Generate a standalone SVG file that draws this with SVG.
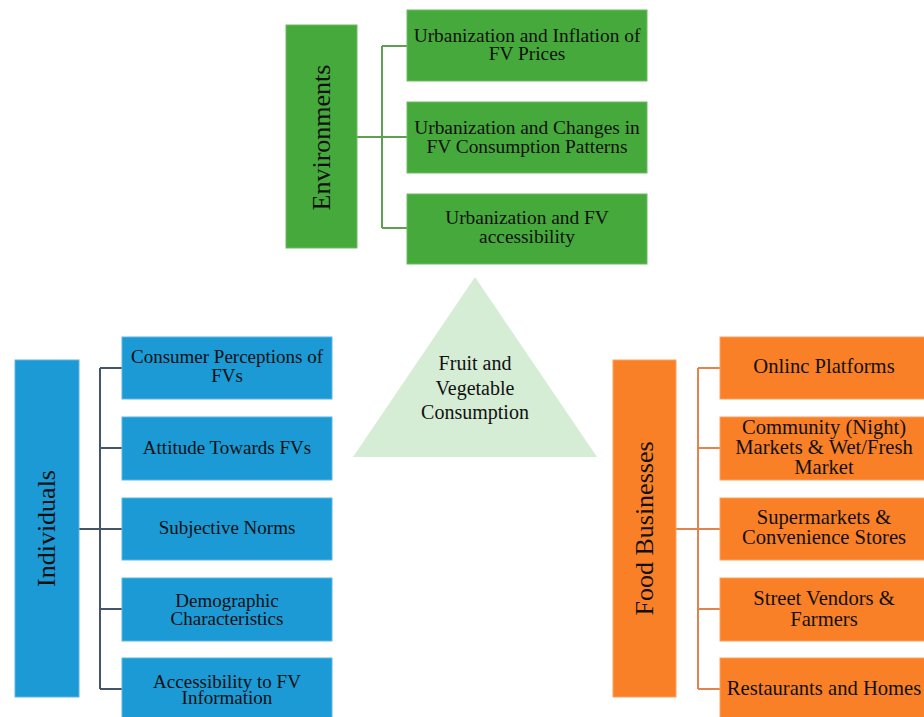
<svg xmlns="http://www.w3.org/2000/svg" width="924" height="717" viewBox="0 0 924 717">
<style>
text{font-family:"Liberation Serif","Times New Roman",serif;fill:#111;text-anchor:middle}
.c{font-size:19px}
.e{font-size:19.4px}
.f{font-size:20.6px}
.t{font-size:26px}
.g{fill:#46A93B;stroke:#6dbb63;stroke-width:1}
.b{fill:#1B9AD6;stroke:#5cb5e2;stroke-width:1}
.o{fill:#F98026;stroke:#fba15e;stroke-width:1}
.lg{stroke:#5E9F50;stroke-width:2;fill:none}
.lb{stroke:#44546A;stroke-width:2;fill:none}
.lo{stroke:#E0834F;stroke-width:2;fill:none}
</style>
<rect width="924" height="717" fill="#fff"/>
<g id="connectors">
<path class="lg" d="M357 137H382M382 46V228M382 46H407M382 137H407M382 228H407"/>
<path class="lb" d="M79 529H100M100 368V689M100 368H122M100 448H122M100 529H122M100 609H122M100 689H122"/>
<path class="lo" d="M676 529H698M698 368V689M698 368H720M698 448H720M698 529H720M698 609H720M698 689H720"/>
</g>
<g id="center">
<polygon points="475,277 353,457 597,457" fill="#D5EDD5"/>
<text x="475" y="370" style="font-size:20px">Fruit and</text>
<text x="475" y="395" style="font-size:20px">Vegetable</text>
<text x="475" y="419" style="font-size:20px">Consumption</text>
</g>
<g id="environments">
<rect class="g" x="286" y="25" width="71" height="223"/>
<text class="t" transform="translate(330,137.5) rotate(-90)">Environments</text>
</g>
<g id="env1"><rect class="g" x="407" y="10" width="240" height="71"/>
<text class="e" x="527" y="42">Urbanization and Inflation of</text><text class="e" x="527" y="60">FV Prices</text></g>
<g id="env2"><rect class="g" x="407" y="102" width="240" height="71"/>
<text class="e" x="527" y="134">Urbanization and Changes in</text><text class="e" x="527" y="153">FV Consumption Patterns</text></g>
<g id="env3"><rect class="g" x="407" y="194" width="240" height="70"/>
<text class="e" x="527" y="224">Urbanization and FV</text><text class="e" x="527" y="243">accessibility</text></g>

<g id="individuals">
<rect class="b" x="15" y="360" width="64" height="337"/>
<text class="t" transform="translate(55,528.5) rotate(-90)">Individuals</text>
</g>
<g id="ind1"><rect class="b" x="122" y="337" width="210" height="62"/>
<text class="c" x="227" y="363">Consumer Perceptions of</text><text class="c" x="227" y="382">FVs</text></g>
<g id="ind2"><rect class="b" x="122" y="417" width="210" height="63"/>
<text class="c" x="227" y="454">Attitude Towards FVs</text></g>
<g id="ind3"><rect class="b" x="122" y="498" width="210" height="62"/>
<text class="c" x="227" y="534">Subjective Norms</text></g>
<g id="ind4"><rect class="b" x="122" y="578" width="210" height="63"/>
<text class="c" x="227" y="607">Demographic</text><text class="c" x="227" y="625">Characteristics</text></g>
<g id="ind5"><rect class="b" x="122" y="658" width="210" height="62"/>
<text class="c" x="227" y="688">Accessibility to FV</text><text class="c" x="227" y="704">Information</text></g>

<g id="food">
<rect class="o" x="613" y="360" width="63" height="337"/>
<text class="t" transform="translate(653,528.5) rotate(-90)">Food Businesses</text>
</g>
<g id="food1"><rect class="o" x="720" y="337" width="210" height="62"/>
<text class="f" x="824" y="373">Onlinc Platforms</text></g>
<g id="food2"><rect class="o" x="720" y="417" width="210" height="63"/>
<text class="f" x="824" y="434">Community (Night)</text><text class="f" x="824" y="454">Markets &amp; Wet/Fresh</text><text class="f" x="824" y="474">Market</text></g>
<g id="food3"><rect class="o" x="720" y="498" width="210" height="62"/>
<text class="f" x="824" y="524">Supermarkets &amp;</text><text class="f" x="824" y="544">Convenience Stores</text></g>
<g id="food4"><rect class="o" x="720" y="578" width="210" height="63"/>
<text class="f" x="824" y="605">Street Vendors &amp;</text><text class="f" x="824" y="626">Farmers</text></g>
<g id="food5"><rect class="o" x="720" y="658" width="210" height="62"/>
<text class="f" x="824" y="695">Restaurants and Homes</text></g>
</svg>
